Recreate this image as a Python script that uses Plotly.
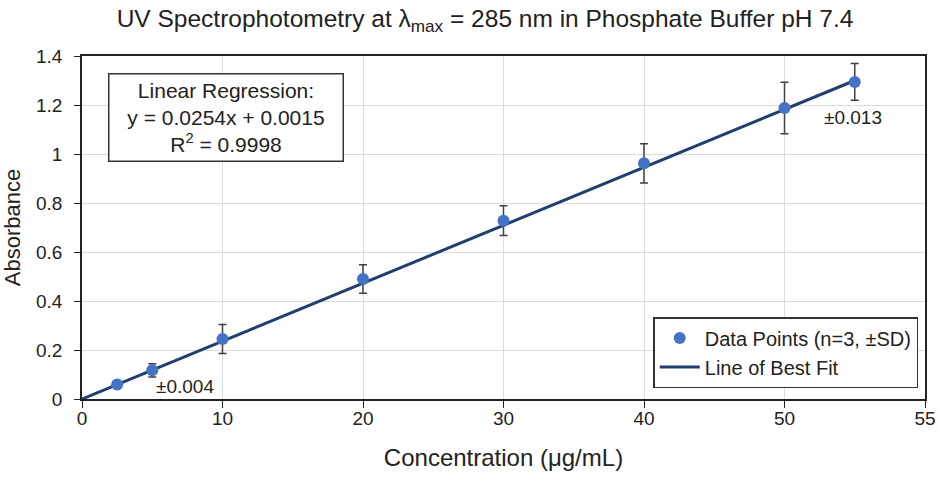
import plotly.graph_objects as go

# calibration data
conc = [2.5, 5, 10, 20, 30, 40, 50, 55]
absorbance = [0.059, 0.117, 0.245, 0.49, 0.728, 0.962, 1.188, 1.294]
sd = [0.012, 0.027, 0.059, 0.058, 0.061, 0.08, 0.105, 0.075]

fit_x = [0, 55]
fit_y = [0.0, 1.30]

x_ticks = [0, 10, 20, 30, 40, 50, 60]
x_tick_text = ["0", "10", "20", "30", "40", "50", "55"]
y_ticks = [0, 0.2, 0.4, 0.6, 0.8, 1.0, 1.2, 1.4]
y_tick_text = ["0", "0.2", "0.4", "0.6", "0.8", "1", "1.2", "1.4"]

font = "Liberation Sans, Arial, sans-serif"

fig = go.Figure()

fig.add_trace(go.Scatter(
    x=fit_x, y=fit_y, mode="lines", name="Line of Best Fit",
    line=dict(color="#1f3f6e", width=3),
))
fig.add_trace(go.Scatter(
    x=conc, y=absorbance, mode="markers", name="Data Points (n=3, ±SD)",
    marker=dict(color="#4472c4", size=12),
    error_y=dict(type="data", array=sd, visible=True, color="#404040",
                 thickness=1.5, width=4),
))

# SD labels
fig.add_annotation(x=7.3, y=0.05, text="±0.004", showarrow=False,
                   font=dict(size=19, color="#222", family=font))
fig.add_annotation(x=54.9, y=1.15, text="±0.013", showarrow=False,
                   font=dict(size=19, color="#222", family=font))

# regression box
fig.add_annotation(
    xref="paper", yref="paper", x=0.1714, y=0.950,
    xanchor="center", yanchor="top",
    text="Linear Regression:<br>y = 0.0254x + 0.0015<br>R<sup>2</sup> = 0.9998",
    showarrow=False, align="center", width=229, height=82,
    font=dict(size=21, color="#222", family=font),
    bordercolor="#333", borderwidth=1.5, borderpad=2, bgcolor="white",
)

fig.update_layout(
    width=940, height=479,
    margin=dict(l=82, r=15, t=56, b=80),
    paper_bgcolor="white", plot_bgcolor="white",
    font=dict(family=font, color="#222"),
    title=dict(text="UV Spectrophotometry at λ<sub>max</sub> = 285 nm in Phosphate Buffer pH 7.4",
               x=0.516, xanchor="center", y=0.962, yanchor="middle",
               font=dict(size=24.5, family=font, color="#222")),
    xaxis=dict(range=[0, 60], tickvals=x_ticks, ticktext=x_tick_text,
               showgrid=True, gridcolor="#dcdcdc", gridwidth=1,
               showline=True, linecolor="#222", linewidth=1.5, mirror=True,
               ticks="outside", ticklen=7, tickcolor="#222",
               ticklabelstandoff=-6, automargin="height",
               tickfont=dict(size=19), zeroline=False,
               title=dict(text="Concentration (μg/mL)", font=dict(size=24), standoff=22)),
    yaxis=dict(range=[0, 1.4], tickvals=y_ticks, ticktext=y_tick_text,
               showgrid=True, gridcolor="#dcdcdc", gridwidth=1,
               showline=True, linecolor="#222", linewidth=1.5, mirror=True,
               ticks="outside", ticklen=6, tickcolor="#222",
               ticklabelstandoff=8,
               tickfont=dict(size=19), zeroline=False,
               title=dict(text="Absorbance", font=dict(size=22), standoff=10)),
    legend=dict(x=0.992, y=0.032, xanchor="right", yanchor="bottom",
                traceorder="reversed", itemwidth=40,
                bordercolor="#333", borderwidth=1.5, bgcolor="white",
                font=dict(size=20, color="#222")),
    showlegend=True,
)

# page body has an 8px default margin; drop it so the figure sits at the corner
fig.write_html("out.html", config={"displayModeBar": False},
               post_script="document.body.style.margin='0';")
